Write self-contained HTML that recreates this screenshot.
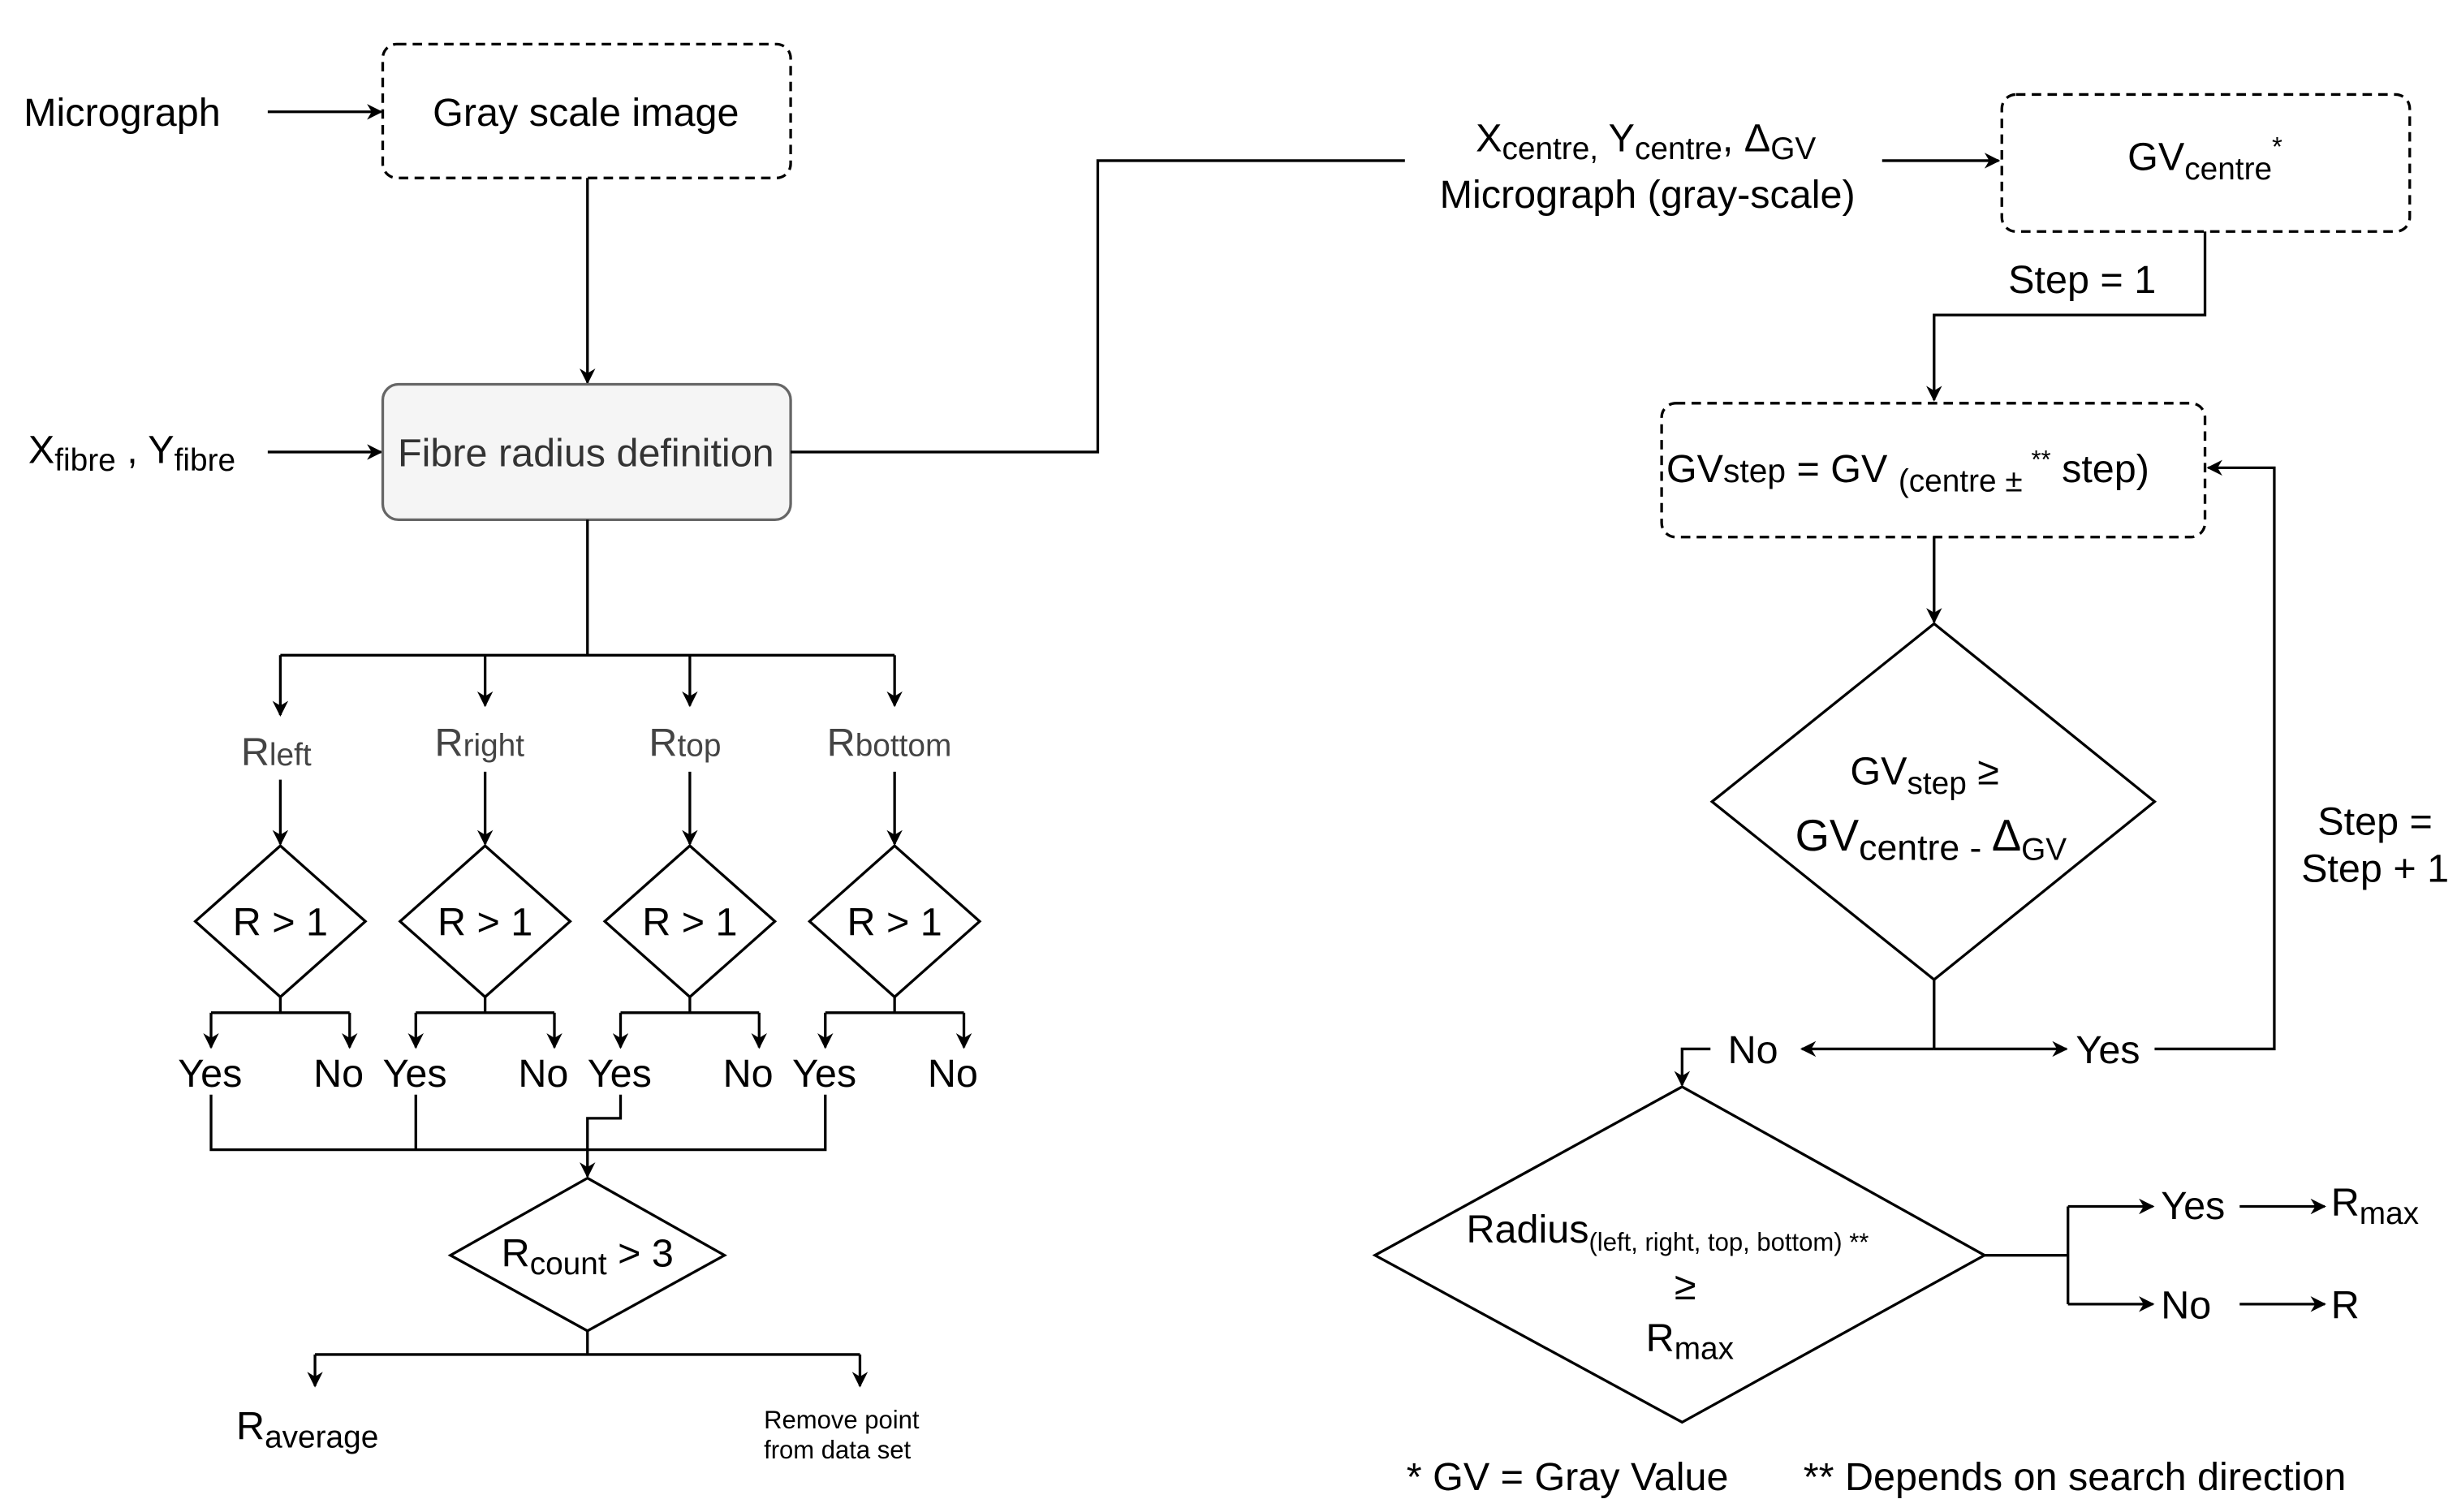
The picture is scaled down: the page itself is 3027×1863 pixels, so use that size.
<!DOCTYPE html>
<html><head><meta charset="utf-8"><style>
html,body{margin:0;padding:0;background:#fff}
svg{display:block}
text{font-family:"Liberation Sans",Arial,sans-serif;fill:#000}
</style></head><body>
<svg width="3027" height="1863" viewBox="0 0 1560 960" preserveAspectRatio="none" xmlns="http://www.w3.org/2000/svg">
<defs>
<marker id="a" viewBox="0 0 10 10" refX="9" refY="5" markerWidth="10" markerHeight="10" markerUnits="userSpaceOnUse" orient="auto">
<path d="M0,0 L10,5 L0,10 L3,5 z" fill="#000"/></marker>
</defs>
<g stroke="#000" stroke-width="1.7" fill="none">
<line x1="170" y1="71" x2="242" y2="71" marker-end="url(#a)"/>
<rect x="243" y="28" width="259" height="85" rx="9" stroke-dasharray="6,4"/>
<line x1="373" y1="113" x2="373" y2="243" marker-end="url(#a)"/>
<line x1="170" y1="287" x2="242" y2="287" marker-end="url(#a)"/>
<rect x="243" y="244" width="259" height="86" rx="10" fill="#f5f5f5" stroke="#666"/>
<polyline points="502,287 697,287 697,102 892,102"/>
<line x1="1195" y1="102" x2="1269" y2="102" marker-end="url(#a)"/>
<rect x="1271" y="60" width="259" height="87" rx="9" stroke-dasharray="6,4"/>
<polyline points="1400,147 1400,200 1228,200 1228,254" marker-end="url(#a)"/>
<rect x="1055" y="256" width="345" height="85" rx="9" stroke-dasharray="6,4"/>
<line x1="1228" y1="341" x2="1228" y2="395" marker-end="url(#a)"/>
<polygon points="1228,396 1368,509 1228,622 1087,509"/>
<line x1="1228" y1="622" x2="1228" y2="666"/>
<line x1="1228" y1="666" x2="1144" y2="666" marker-end="url(#a)"/>
<line x1="1228" y1="666" x2="1312" y2="666" marker-end="url(#a)"/>
<polyline points="1368,666 1444,666 1444,297 1402,297" marker-end="url(#a)"/>
<polyline points="1086,666 1068,666 1068,689" marker-end="url(#a)"/>
<polygon points="1068,690 1260,797 1068,903 873,797"/>
<polyline points="1260,797 1313,797"/>
<line x1="1313" y1="766" x2="1313" y2="828"/>
<line x1="1313" y1="766" x2="1367" y2="766" marker-end="url(#a)"/>
<line x1="1313" y1="828" x2="1367" y2="828" marker-end="url(#a)"/>
<line x1="1422" y1="766" x2="1476" y2="766" marker-end="url(#a)"/>
<line x1="1422" y1="828" x2="1476" y2="828" marker-end="url(#a)"/>
<line x1="373" y1="330" x2="373" y2="416"/>
<line x1="178" y1="416" x2="568" y2="416"/>
<line x1="178" y1="416" x2="178" y2="454" marker-end="url(#a)"/>
<line x1="308" y1="416" x2="308" y2="448" marker-end="url(#a)"/>
<line x1="438" y1="416" x2="438" y2="448" marker-end="url(#a)"/>
<line x1="568" y1="416" x2="568" y2="448" marker-end="url(#a)"/>
<line x1="178" y1="495" x2="178" y2="536" marker-end="url(#a)"/>
<line x1="308" y1="490" x2="308" y2="536" marker-end="url(#a)"/>
<line x1="438" y1="490" x2="438" y2="536" marker-end="url(#a)"/>
<line x1="568" y1="490" x2="568" y2="536" marker-end="url(#a)"/>
<polygon points="178,537 232,585 178,633 124,585"/>
<polygon points="308,537 362,585 308,633 254,585"/>
<polygon points="438,537 492,585 438,633 384,585"/>
<polygon points="568,537 622,585 568,633 514,585"/>
<path d="M178,633V643M134,643H222"/><line x1="134" y1="643" x2="134" y2="665" marker-end="url(#a)"/><line x1="222" y1="643" x2="222" y2="665" marker-end="url(#a)"/>
<path d="M308,633V643M264,643H352"/><line x1="264" y1="643" x2="264" y2="665" marker-end="url(#a)"/><line x1="352" y1="643" x2="352" y2="665" marker-end="url(#a)"/>
<path d="M438,633V643M394,643H482"/><line x1="394" y1="643" x2="394" y2="665" marker-end="url(#a)"/><line x1="482" y1="643" x2="482" y2="665" marker-end="url(#a)"/>
<path d="M568,633V643M524,643H612"/><line x1="524" y1="643" x2="524" y2="665" marker-end="url(#a)"/><line x1="612" y1="643" x2="612" y2="665" marker-end="url(#a)"/>
<path d="M134,695V730H524V695M264,695V730"/>
<polyline points="394,695 394,710 373,710 373,747" marker-end="url(#a)"/>
<polygon points="373,748 460,797 373,845 286,797"/>
<path d="M373,845V860H546M373,860H200"/>
<line x1="200" y1="860" x2="200" y2="880" marker-end="url(#a)"/>
<line x1="546" y1="860" x2="546" y2="880" marker-end="url(#a)"/>
</g>
<g font-size="25">
<text x="15" y="80">Micrograph</text>
<text x="372" y="80" text-anchor="middle">Gray scale image</text>
<text x="18" y="294">X<tspan font-size="20" dy="5">fibre</tspan><tspan dy="-5"> , Y</tspan><tspan font-size="20" dy="5">fibre</tspan></text>
<text x="372" y="296" text-anchor="middle" style="fill:#333">Fibre radius definition</text>
<text x="1045" y="96" text-anchor="middle">X<tspan font-size="20" dy="5">centre,</tspan><tspan dy="-5"> Y</tspan><tspan font-size="20" dy="5">centre</tspan><tspan dy="-5">, Δ</tspan><tspan font-size="20" dy="5">GV</tspan></text>
<text x="1046" y="132" text-anchor="middle">Micrograph (gray-scale)</text>
<text x="1400" y="108" text-anchor="middle">GV<tspan font-size="20" dy="6">centre</tspan><tspan font-size="17" dy="-15">*</tspan></text>
<text x="1322" y="186" text-anchor="middle">Step = 1</text>
<text x="1058" y="306">GV<tspan font-size="21">step</tspan> = GV <tspan font-size="20" dy="6">(centre ± </tspan><tspan font-size="16" dy="-15">**</tspan><tspan dy="9"> step)</tspan></text>
<text x="1222" y="498" text-anchor="middle">GV<tspan font-size="20" dy="6">step</tspan><tspan dy="-6"> ≥</tspan></text>
<text x="1226" y="540" text-anchor="middle" font-size="28">GV<tspan font-size="23" dy="6">centre - </tspan><tspan dy="-6">Δ</tspan><tspan font-size="20" dy="6">GV</tspan></text>
<text x="1097" y="675">No</text>
<text x="1318" y="675">Yes</text>
<text x="1508" y="530" text-anchor="middle">Step =</text>
<text x="1508" y="560" text-anchor="middle">Step + 1</text>
<text x="931" y="789">Radius<tspan font-size="16" dy="5">(left, right, top, bottom) **</tspan></text>
<text x="1070" y="825" text-anchor="middle">≥</text>
<text x="1045" y="858">R<tspan font-size="20" dy="5">max</tspan></text>
<text x="1372" y="774">Yes</text>
<text x="1372" y="837">No</text>
<text x="1480" y="772">R<tspan font-size="20" dy="5">max</tspan></text>
<text x="1480" y="837">R</text>
<text x="893" y="946">* GV = Gray Value</text>
<text x="1145" y="946">** Depends on search direction</text>
<text x="153" y="486" style="fill:#444">R<tspan font-size="20">left</tspan></text>
<text x="276" y="480" style="fill:#444">R<tspan font-size="20">right</tspan></text>
<text x="412" y="480" style="fill:#444">R<tspan font-size="20">top</tspan></text>
<text x="525" y="480" style="fill:#444">R<tspan font-size="20">bottom</tspan></text>
<text x="178" y="594" text-anchor="middle">R &gt; 1</text>
<text x="308" y="594" text-anchor="middle">R &gt; 1</text>
<text x="438" y="594" text-anchor="middle">R &gt; 1</text>
<text x="568" y="594" text-anchor="middle">R &gt; 1</text>
<text x="113" y="690">Yes</text><text x="199" y="690">No</text>
<text x="243" y="690">Yes</text><text x="329" y="690">No</text>
<text x="373" y="690">Yes</text><text x="459" y="690">No</text>
<text x="503" y="690">Yes</text><text x="589" y="690">No</text>
<text x="373" y="804" text-anchor="middle">R<tspan font-size="20" dy="5">count</tspan><tspan dy="-5"> &gt; 3</tspan></text>
<text x="150" y="914">R<tspan font-size="20" dy="5">average</tspan></text>
<text x="485" y="907" font-size="16">Remove point</text>
<text x="485" y="926" font-size="16">from data set</text>
</g>
</svg>
</body></html>
